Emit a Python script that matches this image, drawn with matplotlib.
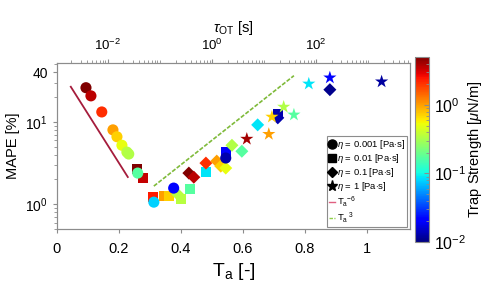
import numpy as np
import matplotlib
matplotlib.use("Agg")
import matplotlib.pyplot as plt
from matplotlib.colors import LogNorm
from matplotlib.lines import Line2D
from matplotlib.ticker import FixedLocator, NullFormatter, LogLocator, NullLocator

plt.rcParams['font.family'] = ['Liberation Sans', 'DejaVu Sans']
plt.rcParams['mathtext.fontset'] = 'custom'
plt.rcParams['mathtext.rm'] = 'Liberation Sans'
plt.rcParams['mathtext.it'] = 'Liberation Sans:italic'
plt.rcParams['mathtext.bf'] = 'Liberation Sans:bold'

# ---- data ----
# eta = 0.001 Pa s (circles)
circ_Ta = [0.094, 0.110, 0.145, 0.181, 0.194, 0.210, 0.226, 0.232, 0.261, 0.313, 0.377, 0.545]
circ_mape = [26.0, 20.7, 13.2, 8.0, 6.6, 5.2, 4.3, 4.07, 2.39, 1.06, 1.57, 3.64]
circ_k = [5.0, 3.6, 2.1, 1.0, 0.73, 0.50, 0.36, 0.33, 0.17, 0.078, 0.022, 0.013]

# eta = 0.01 Pa s (squares)
sq_Ta = [0.258, 0.277, 0.310, 0.345, 0.361, 0.400, 0.429, 0.481, 0.545, 0.713]
sq_mape = [2.67, 2.07, 1.22, 1.25, 1.25, 1.15, 1.52, 2.45, 4.3, 12.5]
sq_k = [5.0, 3.4, 2.4, 1.0, 0.73, 0.35, 0.17, 0.088, 0.022, 0.013]

# eta = 0.1 Pa s (diamonds)
dm_Ta = [0.390, 0.426, 0.442, 0.481, 0.516, 0.529, 0.545, 0.565, 0.597, 0.648, 0.713, 0.881]
dm_mape = [1.32, 2.39, 2.13, 3.16, 3.34, 2.9, 2.75, 5.2, 4.4, 9.2, 11.2, 24.6]
dm_k = [0.35, 5.0, 3.6, 2.1, 1.0, 0.73, 0.50, 0.33, 0.17, 0.088, 0.013, 0.011]

# eta = 1 Pa s (stars)
st_Ta = [0.613, 0.684, 0.694, 0.732, 0.765, 0.813, 0.881, 1.048]
st_mape = [6.2, 7.1, 11.5, 15.2, 12.2, 29.0, 34.4, 30.8]
st_k = [4.1, 1.0, 0.73, 0.33, 0.17, 0.088, 0.022, 0.012]

# guide lines
neg6_Ta = [0.045, 0.229]
neg6_mape = [26.7, 2.14]
pos3_Ta = [0.313, 0.765]
pos3_mape = [1.66, 36.4]

legend_labels = [r'$\eta$ = 0.001 [Pa$\cdot$s]', r'$\eta$ = 0.01 [Pa$\cdot$s]',
                 r'$\eta$ = 0.1 [Pa$\cdot$s]', r'$\eta$ = 1 [Pa$\cdot$s]',
                 r'T$_\mathrm{a}$$^{-6}$', r'T$_\mathrm{a}$$^{\ 3}$']

# ---- figure ----
fig = plt.figure(figsize=(4.9, 2.94), dpi=100)
ax = fig.add_axes([0.116, 0.221, 0.721, 0.565])
norm = LogNorm(vmin=0.01, vmax=5.0)
cmap = 'jet'

c_neg6 = '#a51c3c'
c_pos3 = '#7fba3a'
ax.plot(neg6_Ta, neg6_mape, color=c_neg6, lw=1.3, zorder=1)
ax.plot(pos3_Ta, pos3_mape, color=c_pos3, lw=1.2, ls=(0, (2.5, 1)), zorder=1)

ax.scatter(sq_Ta, sq_mape, c=sq_k, cmap=cmap, norm=norm, marker='s', s=50, linewidths=0, zorder=2)
ax.scatter(dm_Ta, dm_mape, c=dm_k, cmap=cmap, norm=norm, marker='D', s=44, linewidths=0, zorder=2)
ax.scatter(st_Ta, st_mape, c=st_k, cmap=cmap, norm=norm, marker='*', s=100, linewidths=0, zorder=2)
sc = ax.scatter(circ_Ta, circ_mape, c=circ_k, cmap=cmap, norm=norm, marker='o', s=64, linewidths=0, zorder=3)

ax.set_yscale('log')
ax.set_xlim(0, 1.14)
ax.set_ylim(0.5, 52)
ax.set_xticks([0, 0.2, 0.4, 0.6, 0.8, 1.0])
ax.set_xticklabels(['0', '0.2', '0.4', '0.6', '0.8', '1'])
ax.xaxis.set_minor_locator(NullLocator())
ax.yaxis.set_major_locator(FixedLocator([1, 10, 40]))
ax.set_yticklabels([r'$10^0$', r'$10^1$', '40'])
ax.yaxis.set_minor_locator(LogLocator(base=10, subs=np.arange(2, 10)))
ax.yaxis.set_minor_formatter(NullFormatter())

grey = '#8c8c8c'
for sp in ax.spines.values():
    sp.set_color(grey)
    sp.set_linewidth(0.8)
ax.tick_params(axis='both', which='both', direction='out', color=grey, top=False, right=False)
ax.tick_params(axis='x', which='major', labelsize=10.5, length=3, pad=6)
ax.tick_params(axis='y', which='major', labelsize=10, length=3)
ax.tick_params(axis='y', which='minor', length=2)

ax.set_xlabel(r'T$_\mathrm{a}$ [-]', fontsize=14, labelpad=4)
ax.set_ylabel('MAPE [%]', fontsize=10.5, labelpad=4)

# top axis
ax2 = ax.twiny()
ax2.set_xscale('log')
ax2.set_xlim(10**-2.98, 10**3.81)
ax2.xaxis.set_major_locator(FixedLocator([1e-2, 1e0, 1e2]))
ax2.set_xticklabels([r'$10^{-2}$', r'$10^{0}$', r'$10^{2}$'])
ax2.xaxis.set_minor_locator(LogLocator(base=10, subs=np.arange(1, 10), numticks=30))
ax2.xaxis.set_minor_formatter(NullFormatter())
ax2.tick_params(axis='x', which='both', direction='out', color=grey, labelsize=9.5)
ax2.tick_params(axis='x', which='major', length=3, pad=4)
ax2.tick_params(axis='x', which='minor', length=2)
for sp in ax2.spines.values():
    sp.set_color(grey)
    sp.set_linewidth(0.8)
ax2.set_xlabel(r'$\tau_{\mathrm{OT}}$ [s]', fontsize=10.5, labelpad=4)

# legend
handles = [Line2D([], [], marker='o', color='k', ls='none', markersize=6.5),
           Line2D([], [], marker='s', color='k', ls='none', markersize=6),
           Line2D([], [], marker='D', color='k', ls='none', markersize=5.5),
           Line2D([], [], marker='*', color='k', ls='none', markersize=8),
           Line2D([], [], color='#e06080', lw=1.0),
           Line2D([], [], color='#8fd04a', lw=1.0, ls=(0, (2.5, 1)))]
leg = ax.legend(handles, legend_labels, loc='lower right', bbox_to_anchor=(0.99, 0.012),
                borderaxespad=0, fontsize=6.8, handlelength=0.7, handletextpad=0.15,
                labelspacing=0.12, borderpad=0.2, fancybox=False, framealpha=1,
                edgecolor=grey)
leg.get_frame().set_linewidth(0.8)

# colorbar
cax = fig.add_axes([0.847, 0.177, 0.029, 0.629])
cb = fig.colorbar(sc, cax=cax)
cb.outline.set_edgecolor(grey)
cb.outline.set_linewidth(0.8)
cb.ax.yaxis.set_major_locator(FixedLocator([1e-2, 1e-1, 1e0]))
cb.ax.set_yticklabels([r'$10^{-2}$', r'$10^{-1}$', r'$10^{0}$'])
cb.ax.tick_params(which='both', color=grey, labelsize=11.5, direction='in')
cb.set_label(r'Trap Strength [$\mu$N/m]', fontsize=10.5, labelpad=0)

fig.savefig('out.png', dpi=100)
